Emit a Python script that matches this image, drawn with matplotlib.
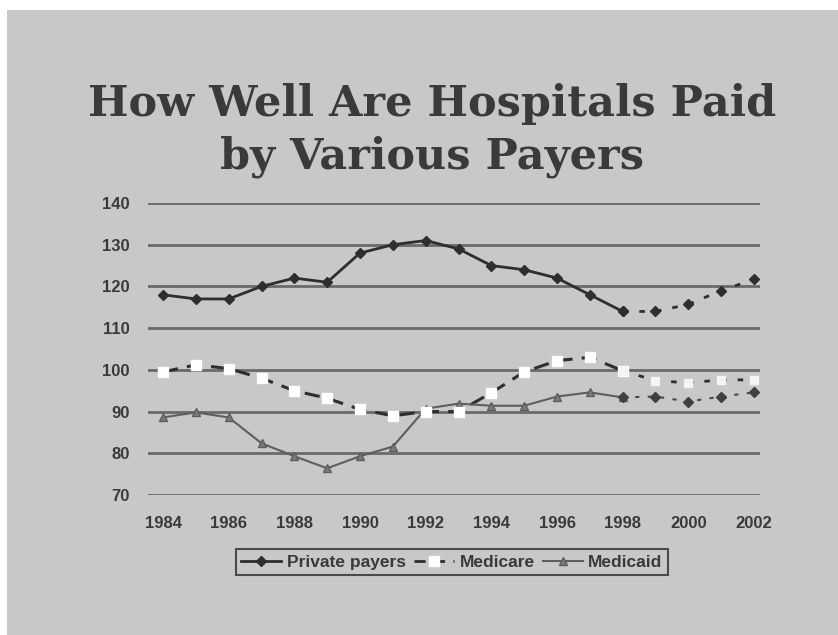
import matplotlib
matplotlib.use("Agg")
import matplotlib.pyplot as plt
from matplotlib.patches import Rectangle
from matplotlib.lines import Line2D

# ---- data ----
years = [1984, 1985, 1986, 1987, 1988, 1989, 1990, 1991, 1992, 1993,
         1994, 1995, 1996, 1997, 1998]
proj_years = [1998, 1999, 2000, 2001, 2002]

private = [118, 117, 117, 120, 122, 121, 128, 130, 131, 129,
           125, 124, 122, 118, 114]
private_proj = [114, 114, 115.7, 119, 121.7]

medicare = [99.5, 101.2, 100.3, 98, 95, 93.2, 90.5, 89, 90, 90,
            94.5, 99.5, 102.2, 103, 99.8]
medicare_proj = [99.8, 97.4, 96.9, 97.6, 97.6]

medicaid = [88.6, 89.8, 88.6, 82.4, 79.3, 76.4, 79.3, 81.6, 90.7, 91.9,
            91.4, 91.4, 93.6, 94.6, 93.4]
medicaid_proj = [93.4, 93.6, 92.4, 93.6, 94.6]

y_ticks = [70, 80, 90, 100, 110, 120, 130, 140]
x_ticks = [1984, 1986, 1988, 1990, 1992, 1994, 1996, 1998, 2000, 2002]

title_lines = ["How Well Are Hospitals Paid", "by Various Payers"]
labels = ["Private payers", "Medicare", "Medicaid"]

# ---- style ----
W, H = 838, 635
bg = "#c8c8c8"
ink = "#3a3a3a"
grid_c = "#6a6a6a"

fig = plt.figure(figsize=(W / 100, H / 100), dpi=100)
fig.patch.set_facecolor("white")
fig.add_artist(Rectangle((7 / W, 0), 1, 1 - 10 / H, transform=fig.transFigure,
                         facecolor=bg, edgecolor="none", zorder=-10))

fig.text(0.516, 1 - 116 / H, title_lines[0], ha="center", va="baseline",
         fontfamily="DejaVu Serif", fontweight="bold", fontsize=31, color=ink)
fig.text(0.516, 1 - 168 / H, title_lines[1], ha="center", va="baseline",
         fontfamily="DejaVu Serif", fontweight="bold", fontsize=31, color=ink)

ax = fig.add_axes([148 / W, 1 - 495 / H, (760 - 148) / W, (495 - 203) / H])
ax.set_facecolor("none")
x0 = 1984 - 15 / 32.83
x1 = 2002 + 6 / 32.83
ax.set_xlim(x0, x1)
ax.set_ylim(70, 140)
for s in ax.spines.values():
    s.set_visible(False)
for yv in y_ticks:
    ax.axhline(yv, color=grid_c, lw=2, zorder=1)

ax.set_yticks(y_ticks)
ax.set_xticks(x_ticks)
ax.tick_params(length=0)
ax.tick_params(axis="y", pad=13)
ax.tick_params(axis="x", pad=15)
for lab in ax.get_yticklabels() + ax.get_xticklabels():
    lab.set_fontweight("bold")
    lab.set_fontsize(12)
    lab.set_color(ink)
    lab.set_fontfamily("Liberation Sans")

dark = "#2e2e2e"
# Private payers
ax.plot(years, private, color=dark, lw=2, marker="D", ms=5.5,
        mfc=dark, mec=dark, zorder=4, clip_on=False)
ax.plot(proj_years, private_proj, color=dark, lw=2, ls=(0, (2, 4)),
        marker="D", ms=5.5, mfc=dark, mec=dark, zorder=4, clip_on=False)

# Medicare
ax.plot(years, medicare, color=dark, lw=2.2, ls=(0, (5, 3)), zorder=3)
ax.plot(years, medicare, ls="none", marker="s", ms=7, mfc="white",
        mec="white", zorder=5)
ax.plot(proj_years, medicare_proj, color=dark, lw=2, ls=(0, (2, 4)),
        zorder=3)
ax.plot(proj_years, medicare_proj, ls="none", marker="s", ms=5.5,
        mfc="#f4f4f4", mec="#f4f4f4", zorder=5)

# Medicaid
ax.plot(years, medicaid, color="#5e5e5e", lw=1.5, marker="^", ms=6,
        mfc="#7a7a7a", mec="#5e5e5e", zorder=4)
ax.plot(proj_years, medicaid_proj, color="#4a4a4a", lw=1.5, ls=(0, (2, 4)),
        marker="D", ms=5, mfc="#404040", mec="#404040", zorder=4)

handles = [
    Line2D([], [], color=dark, lw=2, marker="D", ms=5.5),
    Line2D([], [], color=dark, lw=2, ls=(0, (4, 3)), marker="s", ms=7,
           mfc="white", mec="white"),
    Line2D([], [], color="#5e5e5e", lw=1.5, marker="^", ms=6,
           mfc="#7a7a7a", mec="#5e5e5e"),
]
leg = fig.legend(handles, labels, loc="center", ncol=3,
                 bbox_to_anchor=(452 / W, 1 - 562 / H),
                 prop={"family": "Liberation Sans", "weight": "bold", "size": 12.5},
                 frameon=True, fancybox=False, edgecolor="#4a4a4a",
                 facecolor=bg, framealpha=1, handlelength=2.3,
                 handletextpad=0.3, columnspacing=0.5, borderpad=0.3)
leg.get_frame().set_linewidth(1.5)
for t in leg.get_texts():
    t.set_color(ink)

fig.savefig("out.png", dpi=100, facecolor=fig.get_facecolor())
